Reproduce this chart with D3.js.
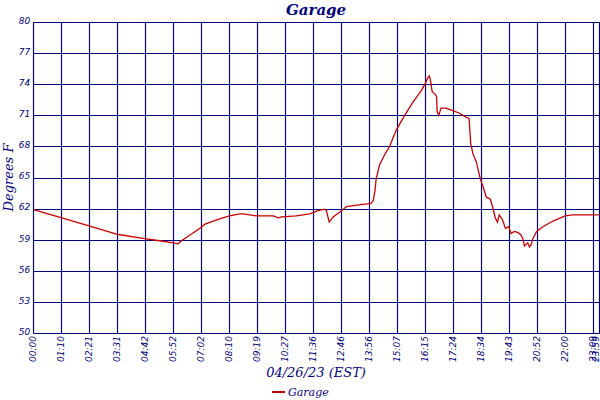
<!DOCTYPE html>
<html>
<head>
<meta charset="utf-8">
<script src="https://cdn.jsdelivr.net/npm/d3@7"></script>
<style>
  body { margin: 0; background: #fff; }
  svg { display: block; }
</style>
</head>
<body>
<svg id="chart" width="600" height="400"></svg>
<script>
// sample index along the x axis (one tick label every 50 samples)
const sampleIdx = [0, 51, 101, 152, 199, 226, 250, 259, 265, 298, 307, 333, 351, 369, 375, 399, 429, 438, 444, 470,
  494, 509, 521, 524, 529, 536, 551, 560, 589, 604, 608, 611, 613, 619, 628, 637, 649, 664, 679, 694,
  701, 705, 708, 710, 713, 719, 721, 722, 725, 729, 738, 750, 762, 771, 779, 782, 786, 792, 796, 799,
  801, 805, 810, 817, 821, 826, 830, 833, 839, 844, 850, 854, 860, 866, 872, 876, 878, 884, 887, 890,
  893, 900, 911, 929, 951, 964, 1011]
const garageF = [61.9, 61.1, 60.3, 59.5, 59.1, 58.9, 58.7, 58.6, 58.9, 60.1, 60.5, 61.0, 61.3, 61.5, 61.5, 61.3, 61.3, 61.1, 61.2, 61.3,
  61.5, 61.8, 61.95, 61.8, 60.7, 61.2, 61.8, 62.2, 62.4, 62.5, 62.8, 63.8, 64.9, 66.2, 67.2, 68.0, 69.6, 71.0, 72.3, 73.4,
  74.1, 74.6, 74.8, 74.4, 73.3, 73.0, 72.8, 71.35, 71.0, 71.7, 71.7, 71.45, 71.2, 70.9, 70.7, 68.3, 67.3, 66.5, 65.6, 64.9,
  64.6, 63.96, 63.1, 62.9, 62.2, 61.1, 60.7, 61.4, 60.9, 60.1, 60.25, 59.6, 59.8, 59.7, 59.45, 58.97, 58.4, 58.7, 58.3, 58.5,
  59.1, 59.8, 60.25, 60.8, 61.3, 61.4, 61.4]

const tickIdx = [0, 50, 100, 150, 200, 250, 300, 350, 400, 450, 500, 550, 600, 650, 700, 750, 800, 850, 900, 950, 1000, 1011]
const tickLabels = ["00:00", "01:10", "02:21", "03:31", "04:42", "05:52", "07:02", "08:10", "09:19", "10:27", "11:36",
  "12:46", "13:56", "15:07", "16:15", "17:24", "18:34", "19:43", "20:52", "22:00", "23:09", "23:59"]
const yTicks = [50, 53, 56, 59, 62, 65, 68, 71, 74, 77, 80]

const navy = "#000080"
const red = "#cc0000"
const margin = {top: 22, right: 1, bottom: 67, left: 33}
const width = 600, height = 400

const svg = d3.select("#chart")

const x = d3.scaleLinear()
  .domain([0, 1011])
  .range([margin.left + 0.3, width - margin.right - 0.2])
const y = d3.scaleLinear()
  .domain([50, 80])
  .range([height - margin.bottom, margin.top])

// snap to pixel centres so every grid line comes out the same weight
const snap = v => Math.round(v) + 0.5

// grid
const grid = svg.append("g")
  .attr("stroke", navy)
  .attr("stroke-width", 1.15)

grid.selectAll("line.h")
  .data(yTicks)
  .join("line")
    .attr("class", "h")
    .attr("x1", snap(x.range()[0])).attr("x2", snap(x.range()[1]))
    .attr("y1", d => snap(y(d))).attr("y2", d => snap(y(d)))

grid.selectAll("line.v")
  .data(tickIdx)
  .join("line")
    .attr("class", "v")
    .attr("x1", d => snap(x(d))).attr("x2", d => snap(x(d)))
    .attr("y1", snap(y(80))).attr("y2", snap(y(50)))

// y tick labels
svg.append("g")
  .attr("font-family", "DejaVu Sans, sans-serif")
  .attr("font-style", "italic")
  .attr("font-size", 9)
  .attr("fill", navy)
  .attr("text-anchor", "end")
  .selectAll("text")
  .data(yTicks)
  .join("text")
    .attr("x", x.range()[0] - 3)
    .attr("y", d => y(d) - 1)
    .attr("dy", "0.32em")
    .text(d => d)

// x tick labels, rotated (last one pulled in so it stays on the page)
svg.append("g")
  .attr("font-family", "DejaVu Sans, sans-serif")
  .attr("font-style", "italic")
  .attr("font-size", 9)
  .attr("fill", navy)
  .attr("text-anchor", "end")
  .selectAll("text")
  .data(tickIdx)
  .join("text")
    .attr("transform", d => `translate(${Math.min(x(d), 595.5)},${y(50) + 3}) rotate(-90)`)
    .attr("dy", "0.35em")
    .text((d, i) => tickLabels[i])

// data line
const line = d3.line()
  .x((d, i) => x(sampleIdx[i]))
  .y(d => y(d))

svg.append("path")
  .datum(garageF)
  .attr("fill", "none")
  .attr("stroke", red)
  .attr("stroke-width", 1.3)
  .attr("d", line)

// titles
const serif = "DejaVu Serif, serif"
const cx = (x.range()[0] + x.range()[1]) / 2

svg.append("text")
  .attr("x", cx).attr("y", 15)
  .attr("text-anchor", "middle")
  .attr("font-family", serif)
  .attr("font-style", "italic")
  .attr("font-weight", "bold")
  .attr("font-size", 15)
  .attr("fill", navy)
  .text("Garage")

svg.append("text")
  .attr("x", cx).attr("y", 377)
  .attr("text-anchor", "middle")
  .attr("font-family", serif)
  .attr("font-style", "italic")
  .attr("font-size", 13)
  .attr("fill", navy)
  .text("04/26/23 (EST)")

svg.append("text")
  .attr("transform", `translate(13,${(y(50) + y(80)) / 2}) rotate(-90)`)
  .attr("text-anchor", "middle")
  .attr("font-family", serif)
  .attr("font-style", "italic")
  .attr("font-size", 13)
  .attr("fill", navy)
  .text("Degrees F")

// legend
const lg = svg.append("g").attr("transform", "translate(272,392)")
lg.append("line")
  .attr("x1", 0).attr("x2", 13)
  .attr("stroke", red).attr("stroke-width", 2)
lg.append("text")
  .attr("x", 16).attr("dy", "0.35em")
  .attr("font-family", serif)
  .attr("font-style", "italic")
  .attr("font-size", 11)
  .attr("fill", navy)
  .text("Garage")
</script>
</body>
</html>
